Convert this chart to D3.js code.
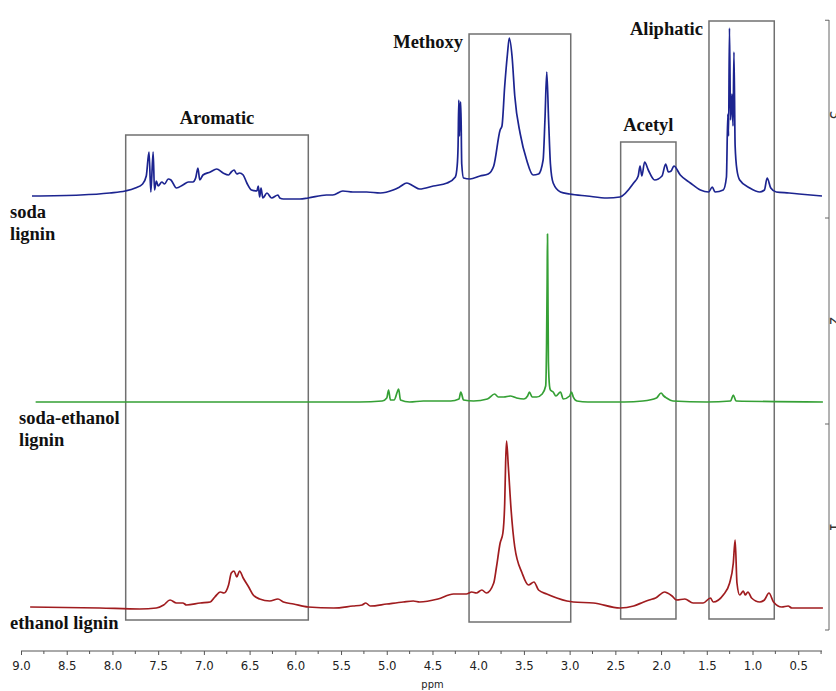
<!DOCTYPE html>
<html>
<head>
<meta charset="utf-8">
<script src="https://cdn.jsdelivr.net/npm/d3@7"></script>
<style>
  html, body { margin: 0; padding: 0; background: #fff; }
  svg { display: block; }
  .lab { font-family: "Liberation Serif", "Times New Roman", serif; font-weight: bold; font-size: 18.5px; fill: #111; }
  .tick text { font-family: "DejaVu Sans Condensed", "DejaVu Sans", sans-serif; }
</style>
</head>
<body>
<svg id="chart" width="836" height="691"></svg>
<script>
// --- spectra: [ppm, intensity above the trace's own baseline] ---
const sodaLignin = [
  [8.88,0],[8.35,0.5],[8.03,1.5],[7.86,2.5],[7.75,4],[7.67,6],[7.63,10],[7.60,22],[7.58,2],[7.555,22],
  [7.54,3],[7.52,7.5],[7.50,5],[7.46,7],[7.43,6],[7.39,8.5],[7.36,8],[7.30,4],[7.23,5.5],[7.17,7],
  [7.12,7],[7.09,9],[7.065,14],[7.045,8],[7.01,10.5],[6.93,12],[6.86,13.5],[6.79,11.5],[6.73,10.5],
  [6.70,12],[6.67,13],[6.64,11],[6.61,11.5],[6.57,10.5],[6.53,6.5],[6.48,3],[6.42,2.5],[6.405,5],
  [6.39,-0.5],[6.375,4],[6.355,-1],[6.31,1.5],[6.26,-1],[6.19,0.5],[6.17,-1],[6.13,-1.5],[5.95,-1.5],
  [5.86,-1],[5.66,0.5],[5.59,0.5],[5.48,2.5],[5.37,2],[5.22,2],[5.07,1.5],[4.93,3],[4.86,4.5],
  [4.78,6.5],[4.71,5],[4.64,3.5],[4.49,5],[4.34,6.5],[4.25,9.5],[4.23,15],[4.22,25],[4.212,48],
  [4.205,30],[4.198,45],[4.19,47],[4.18,16],[4.16,9],[4.09,8.5],[3.98,10],[3.89,11],[3.83,15],
  [3.76,33],[3.74,35],[3.71,55],[3.68,71],[3.66,79],[3.63,70],[3.60,50],[3.54,31],[3.47,18],
  [3.40,10.5],[3.34,11],[3.29,18],[3.27,38],[3.25,62],[3.23,38],[3.21,16],[3.18,6.5],[3.10,2],
  [3.00,1],[2.81,0],[2.59,-1],[2.45,-0.5],[2.30,6.5],[2.25,10],[2.23,15],[2.21,10],[2.18,17],
  [2.14,13],[2.07,8],[1.99,10],[1.95,16],[1.92,12],[1.89,12.5],[1.86,15],[1.79,10.5],[1.68,6.5],
  [1.57,3],[1.48,2],[1.44,4.5],[1.41,2],[1.32,3],[1.285,9.5],[1.27,41],[1.262,30],[1.252,84],
  [1.24,38],[1.225,51],[1.213,35],[1.203,72],[1.19,25],[1.17,13],[1.14,8],[1.03,4],[0.92,2],
  [0.87,3],[0.84,9],[0.80,4],[0.74,2],[0.60,1.5],[0.49,1],[0.24,0]
];
const sodaEthanolLignin = [
  [8.84,0],[5.30,0],[5.05,0.5],[5.00,2],[4.98,6],[4.96,1],[4.92,1],[4.885,5],[4.87,6.5],[4.85,1],
  [4.75,0],[4.60,0.5],[4.30,0.5],[4.21,1.5],[4.19,5],[4.16,1],[4.05,0.5],[3.90,1.5],[3.82,4],
  [3.78,2.5],[3.72,2.5],[3.65,3],[3.58,2],[3.50,1.5],[3.46,3],[3.44,5],[3.41,2.5],[3.36,2.5],
  [3.30,4],[3.262,8],[3.252,30],[3.246,60],[3.242,84],[3.238,60],[3.232,20],[3.22,8],[3.21,6],
  [3.18,5],[3.15,3],[3.10,5],[3.07,1.5],[3.00,3],[2.98,5],[2.96,2.5],[2.92,0.5],[2.80,0],[2.40,0],
  [2.20,0.5],[2.05,2],[2.00,4.5],[1.97,3],[1.94,2],[1.87,0.5],[1.50,0],[1.24,0.5],[1.21,3.5],
  [1.18,0.5],[0.23,0]
];
const ethanolLignin = [
  [8.90,0],[8.14,-0.5],[7.70,-1],[7.52,-0.5],[7.44,1],[7.37,3.5],[7.30,2],[7.23,2],[7.19,1],[7.04,2],
  [6.93,2.5],[6.88,5],[6.82,7.5],[6.78,7],[6.73,11],[6.70,17],[6.67,18],[6.64,15],[6.61,18],
  [6.57,14.5],[6.51,10],[6.46,6],[6.39,4],[6.28,3],[6.19,4],[6.13,2.5],[6.02,1.5],[5.86,0],
  [5.58,-0.5],[5.37,0.5],[5.27,1],[5.23,2],[5.18,0.5],[5.00,1.5],[4.82,2.5],[4.71,3],[4.64,2.5],
  [4.44,4],[4.27,6.5],[4.13,6.5],[4.07,7.5],[4.02,7],[3.96,8.5],[3.91,7],[3.83,12],[3.80,20],
  [3.76,32],[3.73,37],[3.71,52],[3.70,72],[3.69,83],[3.67,70],[3.64,48.5],[3.60,30],[3.52,17],
  [3.45,11],[3.39,12.5],[3.34,8.5],[3.25,6.5],[3.14,4.5],[3.03,3],[2.96,2.5],[2.74,2],[2.45,-0.5],
  [2.30,0.5],[2.19,2.5],[2.13,3.5],[2.06,4.5],[1.96,7.5],[1.93,7],[1.88,5.5],[1.83,3.5],[1.74,4],
  [1.65,2],[1.54,2],[1.46,4.5],[1.43,2.5],[1.32,6],[1.25,12],[1.21,22],[1.19,33.5],[1.17,12],
  [1.14,6],[1.10,8],[1.08,6],[1.05,7.5],[1.01,4.5],[0.92,2.5],[0.87,3.5],[0.82,7],[0.77,2.5],
  [0.68,0],[0.61,0.5],[0.57,-0.5],[0.23,-0.5]
];

// stack offsets (same units as intensity)
const traces = [
  { name: ["soda", "lignin"], data: sodaLignin, offset: 217, color: "#1c2490", lx: 10 },
  { name: ["soda-ethanol", "lignin"], data: sodaEthanolLignin, offset: 114, color: "#35a035", lx: 19 },
  { name: ["ethanol lignin"], data: ethanolLignin, offset: 11.5, color: "#a01c1f", lx: 10 }
];

// highlighted regions: ppm range + box top / bottom in intensity units
const regions = [
  { label: "Aromatic",  from: 7.855, to: 5.858, top: 247.5, bottom: 5,   pos: "above" },
  { label: "Methoxy",   from: 4.10,  to: 2.988, top: 298,   bottom: 4,   pos: "left" },
  { label: "Acetyl",    from: 2.442, to: 1.837, top: 244,   bottom: 5.5, pos: "above" },
  { label: "Aliphatic", from: 1.476, to: 0.762, top: 304.5, bottom: 5.5, pos: "left" }
];

const xTicks = [9.0, 8.5, 8.0, 7.5, 7.0, 6.5, 6.0, 5.5, 5.0, 4.5, 4.0, 3.5, 3.0, 2.5, 2.0, 1.5, 1.0, 0.5];
const xMinorTicks = [8.75, 8.25, 7.75, 7.25, 6.75, 6.25, 5.75, 5.25, 4.75, 4.25, 3.75, 3.25, 2.75, 2.25, 1.75, 1.25, 0.75, 0.25];
const rightTicks = [0.5, 1.5, 2.5];
const rightLabels = [1, 2, 3];

const svg = d3.select("#chart");

const x = d3.scaleLinear().domain([9.0, 0.24]).range([21, 822]);
const y = d3.scaleLinear().domain([0, 305]).range([630, 20]);
const yRight = d3.scaleLinear().domain([0.5, 3.5]).range([630, 12]);

// --- region boxes ---
const boxG = svg.append("g");
regions.forEach(r => {
  const x0 = x(r.from), x1 = x(r.to);
  boxG.append("rect")
    .attr("x", x0).attr("y", y(r.top))
    .attr("width", x1 - x0).attr("height", y(r.bottom) - y(r.top))
    .attr("fill", "none").attr("stroke", "#707070").attr("stroke-width", 1.5);
  const t = boxG.append("text").attr("class", "lab").text(r.label);
  if (r.pos === "above") {
    t.attr("x", (x0 + x1) / 2).attr("y", y(r.top) - 11).attr("text-anchor", "middle");
  } else {
    t.attr("x", x0 - 6).attr("y", y(r.top) + 14).attr("text-anchor", "end");
  }
});

// --- spectra ---
traces.forEach(tr => {
  const line = d3.line()
    .x(d => x(d[0]))
    .y(d => y(tr.offset + d[1]))
    .curve(d3.curveMonotoneX);
  svg.append("path")
    .datum(tr.data)
    .attr("d", line)
    .attr("fill", "none")
    .attr("stroke", tr.color)
    .attr("stroke-width", 1.7)
    .attr("stroke-linejoin", "round");

  const base = y(tr.offset);
  const t = svg.append("text").attr("class", "lab");
  tr.name.forEach((s, i) => {
    t.append("tspan").attr("x", tr.lx).attr("y", base + 22 + i * 22).text(s);
  });
});

// --- bottom ppm axis ---
const axisY = 651;
const xAxis = d3.axisBottom(x)
  .tickValues(xTicks)
  .tickFormat(d3.format(".1f"))
  .tickSize(4)
  .tickSizeOuter(0);
const gx = svg.append("g").attr("transform", `translate(0,${axisY})`).call(xAxis);
gx.select(".domain").attr("stroke", "#555").attr("d", `M${x(9.0)},0H${x(0.24)}`);
gx.selectAll(".tick line").attr("stroke", "#555");
gx.selectAll(".tick text").attr("font-size", 13).attr("fill", "#222").attr("dy", "0.9em");
gx.selectAll(".minor").data(xMinorTicks).enter().append("line")
  .attr("x1", d => x(d)).attr("x2", d => x(d))
  .attr("y1", 0).attr("y2", 3).attr("stroke", "#555");
svg.append("text")
  .attr("x", x(4.5)).attr("y", 688)
  .attr("text-anchor", "middle")
  .attr("font-family", "DejaVu Sans Condensed, DejaVu Sans, sans-serif")
  .attr("font-size", 11).attr("fill", "#222")
  .text("ppm");

// --- right intensity axis (labels run off the right edge, as in the source) ---
const axX = 829;
const gr = svg.append("g");
gr.append("line").attr("x1", axX).attr("x2", axX).attr("y1", 20).attr("y2", 630).attr("stroke", "#666");
gr.selectAll(".rt").data(rightTicks.concat([3.46])).enter().append("line")
  .attr("x1", axX - 4).attr("x2", axX)
  .attr("y1", d => yRight(d)).attr("y2", d => yRight(d))
  .attr("stroke", "#666");
gr.selectAll(".rl").data(rightLabels).enter().append("text")
  .attr("transform", d => `translate(${axX + 1},${yRight(d)}) rotate(90)`)
  .attr("text-anchor", "middle")
  .attr("font-family", "DejaVu Sans Condensed, DejaVu Sans, sans-serif")
  .attr("font-size", 15).attr("fill", "#333")
  .text(d => d);
</script>
</body>
</html>
